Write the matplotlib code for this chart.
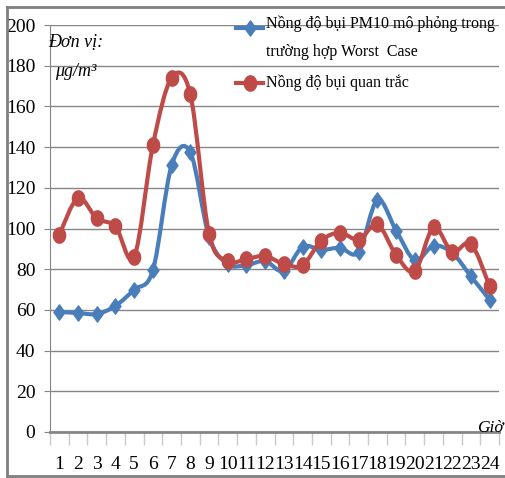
import numpy as np
import matplotlib
matplotlib.use("Agg")
import matplotlib.pyplot as plt
from matplotlib.path import Path
from matplotlib.patches import PathPatch
from matplotlib.lines import Line2D

hours = [str(i) for i in range(1, 25)]
simulated = [59, 58.5, 58, 62, 70, 79.5, 131, 137.5, 96, 82.5, 82, 84, 79, 91, 89.5, 90.5, 88.5, 114,
             99, 84.5, 91.5, 88, 76.5, 65]
observed = [97, 115, 105, 101, 86, 141, 174, 166, 97.5, 84, 85, 86.5, 82.5, 82, 94, 98, 94.5, 102,
            87, 79, 100.5, 88.5, 92.5, 71.5]
label_sim = "Nồng độ bụi PM10 mô phỏng trong\ntrường hợp Worst  Case"
label_obs = "Nồng độ bụi quan trắc"

blue = "#4A7EBB"
red = "#BE4B48"
grid_c = "#868686"

plt.rcParams['font.family'] = ['Liberation Serif', 'DejaVu Serif']

W, H = 505, 478
fig = plt.figure(figsize=(W/100, H/100), dpi=100)
ax = fig.add_axes([50/W, 1-432/H, 449/W, 407/H])

x = np.arange(len(hours)) + 0.5

def smooth_path(xs, ys):
    xs = np.asarray(xs, float); ys = np.asarray(ys, float)
    verts = [(xs[0], ys[0])]
    codes = [Path.MOVETO]
    n = len(xs)
    for i in range(n - 1):
        p0 = np.array([xs[max(i-1, 0)], ys[max(i-1, 0)]])
        p1 = np.array([xs[i], ys[i]])
        p2 = np.array([xs[i+1], ys[i+1]])
        p3 = np.array([xs[min(i+2, n-1)], ys[min(i+2, n-1)]])
        c1 = p1 + (p2 - p0) / 6.0
        c2 = p2 - (p3 - p1) / 6.0
        verts += [tuple(c1), tuple(c2), tuple(p2)]
        codes += [Path.CURVE4] * 3
    return Path(verts, codes)

diamond = Path([(0, 1), (0.72, 0), (0, -1), (-0.72, 0), (0, 1)],
               [Path.MOVETO, Path.LINETO, Path.LINETO, Path.LINETO, Path.CLOSEPOLY])
t = np.linspace(0, 2*np.pi, 40)
ellipse = Path(np.column_stack([0.8*np.cos(t), np.sin(t)]))

for ys, c, mk, ms, z in [(simulated, blue, diamond, 11, 3), (observed, red, ellipse, 11, 4)]:
    ax.add_patch(PathPatch(smooth_path(x, ys), fill=False, edgecolor=c, lw=3, zorder=z))
    ax.plot(x, ys, linestyle='none', marker=mk, markersize=ms, color=c, zorder=z)

ax.set_xlim(0, 24)
ax.set_ylim(0, 200)
ax.set_yticks(np.arange(0, 201, 20))
ax.yaxis.grid(True, color=grid_c, lw=1)
ax.set_axisbelow(True)
ax.set_xticks(np.arange(0, 25), minor=False)
ax.set_xticklabels([])
ax.set_xticks(x, minor=True)
ax.set_xticklabels(hours, minor=True)
ax.tick_params(axis='x', which='major', length=9, color='#C8C8C8', width=1, direction='out')
ax.tick_params(axis='x', which='minor', length=0, pad=17, labelsize=14)
ax.tick_params(axis='y', length=4, color=grid_c, pad=6.5, labelsize=14)
for s in ['top', 'right']:
    ax.spines[s].set_visible(False)
ax.spines['left'].set_color(grid_c)
ax.spines['bottom'].set_color(grid_c)
ax.spines['bottom'].set_linewidth(2)

fig.text(48/W, 1-42/H, "Đơn vị:", fontsize=13, style='italic', va='center', ha='left')
fig.text(55/W, 1-72/H, "μg/m³", fontsize=13, style='italic', va='center', ha='left')
fig.text(477/W, 1-428/H, "Giờ", fontsize=12.5, style='italic', va='center', ha='left')

# legend (manual layout to mimic the spreadsheet legend)
for yy, c, mk in [(28, blue, diamond), (83, red, ellipse)]:
    fig.add_artist(Line2D([236/W, 263/W], [1-yy/H, 1-yy/H], color=c, lw=3,
                          transform=fig.transFigure))
    fig.add_artist(Line2D([249.5/W], [1-yy/H], color=c, marker=mk, markersize=11,
                          linestyle='none', transform=fig.transFigure))
fig.text(266/W, 1-15/H, label_sim, fontsize=11.5, va='top', ha='left', linespacing=2.0)
fig.text(266/W, 1-83/H, label_obs, fontsize=11.5, va='center', ha='left')

# outer chart frame
fr = '#7F7F7F'
fig.add_artist(Line2D([7/W, 7/W], [1-7/H, 1-476/H], color=fr, lw=2, transform=fig.transFigure))
fig.add_artist(Line2D([7/W, 1], [1-7/H, 1-7/H], color=fr, lw=2, transform=fig.transFigure))
fig.add_artist(Line2D([7/W, 1], [1-476/H, 1-476/H], color=fr, lw=2, transform=fig.transFigure))

fig.savefig("out.png", dpi=100)
